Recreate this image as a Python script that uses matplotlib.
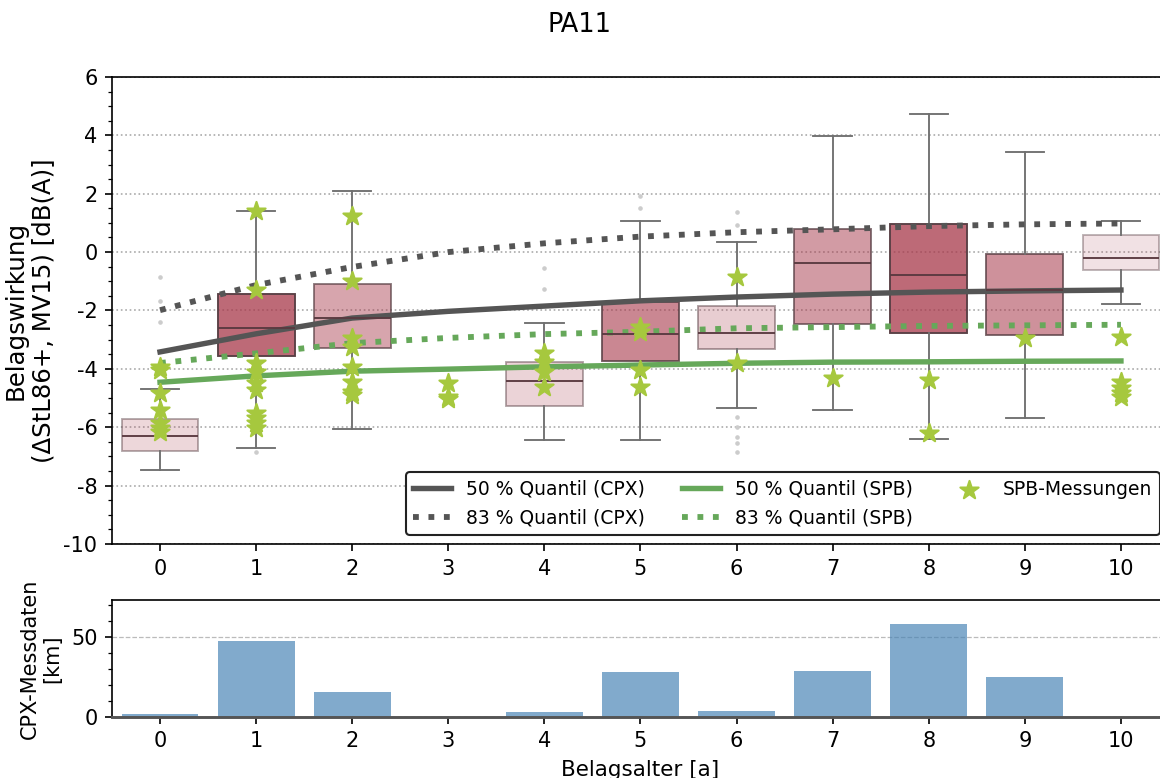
import matplotlib
matplotlib.use("Agg")
import matplotlib.pyplot as plt
from matplotlib.ticker import AutoMinorLocator, MultipleLocator

# Belagsalter (Jahre)
ages = [0, 1, 2, 3, 4, 5, 6, 7, 8, 9, 10]

# Boxplot-Kennwerte der CPX-Daten (kein Wert fuer Alter 3)
box_pos = [0, 1, 2, 4, 5, 6, 7, 8, 9, 10]
box_q1 = [-6.82, -3.56, -3.29, -5.27, -3.73, -3.33, -2.47, -2.76, -2.84, -0.61]
box_med = [-6.30, -2.60, -2.26, -4.42, -2.81, -2.77, -0.38, -0.79, -1.30, -0.20]
box_q3 = [-5.72, -1.44, -1.10, -3.77, -1.71, -1.85, 0.79, 0.96, -0.07, 0.58]
box_lo = [-7.47, -6.71, -6.06, -6.44, -6.44, -5.34, -5.41, -6.40, -5.69, -1.78]
box_hi = [-4.69, 1.40, 2.09, -2.43, 1.06, 0.34, 3.97, 4.73, 3.42, 1.06]
box_fliers = [
    [-0.84, -1.68, -2.38],
    [-6.85],
    [],
    [-0.53, -1.25],
    [1.92, 1.51],
    [1.37, 0.92, -5.64, -5.98, -6.32, -6.55, -6.85],
    [],
    [],
    [],
    [],
]
box_alpha = [0.2, 0.75, 0.45, 0.22, 0.6, 0.25, 0.5, 0.75, 0.55, 0.15]

# Quantil-Kurven
cpx_q50 = [-3.42, -2.80, -2.26, -2.03, -1.85, -1.67, -1.54, -1.44, -1.37, -1.33, -1.30]
cpx_q83 = [-1.99, -1.13, -0.51, 0.00, 0.30, 0.53, 0.68, 0.78, 0.89, 0.95, 0.98]
spb_q50 = [-4.46, -4.24, -4.08, -4.01, -3.93, -3.87, -3.81, -3.77, -3.76, -3.74, -3.73]
spb_q83 = [-3.80, -3.47, -3.12, -2.94, -2.81, -2.73, -2.61, -2.57, -2.53, -2.51, -2.49]

# SPB-Messungen
spb_x = [0, 0, 0, 0, 0, 0, 0,
         1, 1, 1, 1, 1, 1, 1, 1, 1, 1,
         2, 2, 2, 2, 2, 2, 2, 2,
         3, 3, 3,
         4, 4, 4, 4,
         5, 5, 5, 5,
         6, 6,
         7,
         8, 8,
         9,
         10, 10, 10, 10, 10]
spb_y = [-3.93, -4.04, -4.84, -5.41, -5.87, -6.04, -6.15,
         1.41, -1.30, -3.81, -4.10, -4.50, -4.73, -5.52, -5.70, -5.87, -6.04,
         1.23, -0.98, -2.96, -3.24, -3.93, -4.44, -4.78, -4.90,
         -4.50, -4.95, -5.04,
         -3.47, -3.76, -4.10, -4.61,
         -2.56, -2.73, -4.04, -4.63,
         -0.84, -3.81,
         -4.33,
         -4.38, -6.21,
         -2.96,
         -2.92, -4.44, -4.67, -4.84, -4.95]

# CPX-Messdaten je Belagsalter [km]
cpx_km = [1.5, 47.5, 15.3, 0.0, 2.8, 28.0, 3.6, 28.7, 58.2, 24.7, 0.0]

box_color = (0.655, 0.22, 0.29)

fig = plt.figure(figsize=(1160 / 150, 778 / 150), dpi=150)
ax = fig.add_axes([0.09655, 0.3008, 0.9112, 0.6003])
ax2 = fig.add_axes([0.09655, 0.0788, 0.9112, 0.150])

stats = []
for i in range(len(box_pos)):
    stats.append({"q1": box_q1[i], "med": box_med[i], "q3": box_q3[i],
                  "whislo": box_lo[i], "whishi": box_hi[i],
                  "fliers": box_fliers[i]})

bp = ax.bxp(stats, positions=box_pos, widths=0.8, patch_artist=True,
            whiskerprops=dict(color="#707070", lw=0.9),
            capprops=dict(color="#707070", lw=0.9),
            medianprops=dict(color="#5a3a40", lw=0.9),
            flierprops=dict(marker="o", markersize=1.2, markerfacecolor="#cccccc",
                            markeredgecolor="#cccccc"))
for patch, a in zip(bp["boxes"], box_alpha):
    patch.set_facecolor(box_color + (a,))
    patch.set_edgecolor((0.35, 0.25, 0.27, min(1.0, a + 0.25)))
    patch.set_linewidth(0.9)

ax.plot(ages, cpx_q50, color="#555555", lw=2.6, label="50 % Quantil (CPX)")
ax.plot(ages, cpx_q83, color="#555555", lw=2.8, ls=":", label="83 % Quantil (CPX)")
ax.plot(ages, spb_q50, color="#66a85a", lw=2.6, label="50 % Quantil (SPB)")
ax.plot(ages, spb_q83, color="#66a85a", lw=2.8, ls=":", label="83 % Quantil (SPB)")
ax.scatter(spb_x, spb_y, marker="*", s=85, color="#a6c83e", zorder=5,
           label="SPB-Messungen")

ax.set_xlim(-0.5, 10.5)
ax.set_ylim(-10, 6)
ax.set_xticks(ages)
ax.set_xticklabels([str(a) for a in ages])
ax.yaxis.set_major_locator(MultipleLocator(2))
ax.yaxis.set_minor_locator(AutoMinorLocator(4))
ax.set_yticklabels([str(int(t)) for t in ax.get_yticks()])
ax.grid(axis="y", ls=":", color="#aaaaaa", lw=0.8)
ax.tick_params(labelsize=10)
ax.set_ylabel("Belagswirkung\n(ΔStL86+, MV15) [dB(A)]", fontsize=11.7)
ax.legend(ncol=3, loc="lower right", fontsize=9, framealpha=1,
          edgecolor="#222222", fancybox=True)

ax2.bar(ages, cpx_km, width=0.8, color="steelblue", alpha=0.68, linewidth=0)
ax2.set_xlim(-0.5, 10.5)
ax2.set_ylim(0, 73)
ax2.set_xticks(ages)
ax2.yaxis.set_major_locator(MultipleLocator(50))
ax2.yaxis.set_minor_locator(AutoMinorLocator(5))
ax2.grid(axis="y", ls="--", color="#bbbbbb", lw=0.6)
ax2.set_axisbelow(True)
ax2.spines["bottom"].set_color("#555555")
ax2.spines["bottom"].set_linewidth(1.4)
ax2.tick_params(labelsize=10)
ax2.set_ylabel("CPX-Messdaten\n[km]", fontsize=10)
ax2.set_xlabel("Belagsalter [a]", fontsize=10.3)

fig.suptitle("PA11", fontsize=12.3, y=0.985)

fig.savefig("out.png", dpi=150)
